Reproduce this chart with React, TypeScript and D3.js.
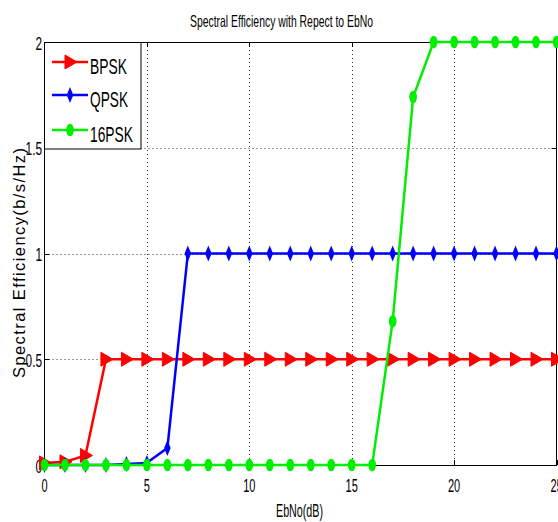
import React, { useRef, useEffect } from 'react';
import * as d3 from 'd3';

const ebno = [0, 1, 2, 3, 4, 5, 6, 7, 8, 9, 10, 11, 12, 13, 14, 15, 16, 17, 18, 19, 20, 21, 22, 23, 24, 25];
const bpsk = [0.01, 0.015, 0.045, 0.5, 0.5, 0.5, 0.5, 0.5, 0.5, 0.5, 0.5, 0.5, 0.5, 0.5, 0.5, 0.5, 0.5, 0.5, 0.5, 0.5, 0.5, 0.5, 0.5, 0.5, 0.5, 0.5];
const qpsk = [0, 0, 0, 0, 0.005, 0.01, 0.08, 1, 1, 1, 1, 1, 1, 1, 1, 1, 1, 1, 1, 1, 1, 1, 1, 1, 1, 1];
const psk16 = [0, 0, 0, 0, 0, 0, 0, 0, 0, 0, 0, 0, 0, 0, 0, 0, 0, 0.68, 1.74, 2, 2, 2, 2, 2, 2, 2];

const xTicks = [0, 5, 10, 15, 20, 25];
const yTicks = [0, 0.5, 1, 1.5, 2];
const yTickLabels = ['0', '0.5', '1', '1.5', '2'];
const seriesNames = ['BPSK', 'QPSK', '16PSK'];
const legendWidths = [37, 38, 43];

const FONT = '"Liberation Sans", Arial, sans-serif';

function App() {
  const ref = useRef<SVGSVGElement>(null);

  useEffect(() => {
    const svg = d3.select(ref.current);
    svg.selectAll('*').remove();
    const width = 558, height = 522;
    svg.attr('width', width).attr('height', height);

    const x = d3.scaleLinear().domain([0, 25]).range([44.5, 556.5]);
    const y = d3.scaleLinear().domain([0, 2]).range([465, 42]);

    svg.append('rect').attr('width', width).attr('height', height).attr('fill', '#fff');

    // grid
    const grid = svg.append('g').attr('stroke', '#333').attr('stroke-width', 1).attr('stroke-dasharray', '1,3');
    xTicks.slice(1, -1).forEach((t) => {
      grid.append('line').attr('x1', Math.round(x(t)) + 0.5).attr('x2', Math.round(x(t)) + 0.5).attr('y1', y(2)).attr('y2', y(0));
    });
    yTicks.slice(1, -1).forEach((t) => {
      grid.append('line').attr('y1', Math.round(y(t)) + 0.5).attr('y2', Math.round(y(t)) + 0.5).attr('x1', x(0)).attr('x2', x(25));
    });

    // axes box and ticks
    const ax = svg.append('g').attr('stroke', '#000').attr('stroke-width', 1).attr('fill', 'none');
    ax.append('rect').attr('x', x(0)).attr('y', y(2) + 0.5).attr('width', x(25) - x(0)).attr('height', y(0) - y(2));
    xTicks.forEach((t) => {
      const px = Math.round(x(t)) + 0.5;
      ax.append('line').attr('x1', px).attr('x2', px).attr('y1', y(0)).attr('y2', y(0) - 5);
      ax.append('line').attr('x1', px).attr('x2', px).attr('y1', y(2)).attr('y2', y(2) + 5);
    });
    yTicks.forEach((t) => {
      const py = Math.round(y(t)) + 0.5;
      ax.append('line').attr('y1', py).attr('y2', py).attr('x1', x(0)).attr('x2', x(0) + 5);
      ax.append('line').attr('y1', py).attr('y2', py).attr('x1', x(25)).attr('x2', x(25) - 5);
    });

    // tick labels
    xTicks.forEach((t) => {
      svg.append('text')
        .attr('transform', `translate(${x(t)},492) scale(0.58,1)`)
        .attr('text-anchor', 'middle')
        .attr('font-family', FONT)
        .attr('font-size', 19)
        .attr('fill', '#000')
        .text(String(t));
    });
    yTicks.forEach((t, i) => {
      svg.append('text')
        .attr('transform', `translate(42,${y(t) + 7.5}) scale(0.64,1)`)
        .attr('text-anchor', 'end')
        .attr('font-family', FONT)
        .attr('font-size', 18.5)
        .attr('fill', '#000')
        .text(yTickLabels[i]);
    });

    // series
    const line = d3.line<number>().x((d, i) => x(ebno[i])).y((d) => y(d));
    const tri = 'M-5,-7L7,0L-5,7Z';
    const diamond = 'M0,-6L2.5,0L0,6L-2.5,0Z M-3,0L3,0';

    const drawMarker = (g: any, kind: number, color: string, px: number, py: number) => {
      if (kind === 0) {
        g.append('path').attr('d', tri).attr('transform', `translate(${px},${py})`).attr('fill', color).attr('stroke', color).attr('stroke-width', 1);
      } else if (kind === 1) {
        g.append('path').attr('d', diamond).attr('transform', `translate(${px},${py})`).attr('fill', color).attr('stroke', color).attr('stroke-width', 1.5);
      } else {
        g.append('ellipse').attr('cx', px).attr('cy', py).attr('rx', 3.8).attr('ry', 6.3).attr('fill', color);
      }
    };

    const series = [
      { data: bpsk, color: '#ff0000' },
      { data: qpsk, color: '#0000ff' },
      { data: psk16, color: '#00ee00' },
    ];
    series.forEach((s, k) => {
      const g = svg.append('g');
      g.append('path').datum(s.data).attr('fill', 'none').attr('stroke', s.color).attr('stroke-width', 2.5).attr('d', line);
      s.data.forEach((v, i) => drawMarker(g, k, s.color, x(ebno[i]), y(v)));
    });

    // legend
    const lg = svg.append('g');
    lg.append('rect').attr('x', 44.5).attr('y', 42.5).attr('width', 96.5).attr('height', 106.5)
      .attr('fill', '#fff').attr('stroke', '#000').attr('stroke-width', 1);
    const legendY = [62, 95, 130];
    series.forEach((s, k) => {
      lg.append('line').attr('x1', 52).attr('x2', 88).attr('y1', legendY[k]).attr('y2', legendY[k])
        .attr('stroke', s.color).attr('stroke-width', 2.5);
      drawMarker(lg, k, s.color, 70, legendY[k]);
      lg.append('text')
        .attr('x', 90).attr('y', legendY[k] + 11.5)
        .attr('font-family', FONT).attr('font-size', 22)
        .attr('textLength', legendWidths[k]).attr('lengthAdjust', 'spacingAndGlyphs')
        .attr('fill', '#000')
        .text(seriesNames[k]);
    });

    // title and labels
    svg.append('text')
      .attr('x', 190).attr('y', 27)
      .attr('font-family', FONT).attr('font-size', 16.5)
      .attr('textLength', 183).attr('lengthAdjust', 'spacingAndGlyphs')
      .attr('fill', '#000')
      .text('Spectral Efficiency with Repect to EbNo');

    svg.append('text')
      .attr('x', 276).attr('y', 517)
      .attr('font-family', FONT).attr('font-size', 18.5)
      .attr('textLength', 47).attr('lengthAdjust', 'spacingAndGlyphs')
      .attr('fill', '#000')
      .text('EbNo(dB)');

    svg.append('text')
      .attr('transform', 'translate(25,263) rotate(-90)')
      .attr('text-anchor', 'middle')
      .attr('font-family', FONT).attr('font-size', 16.5)
      .attr('textLength', 230).attr('lengthAdjust', 'spacing')
      .attr('fill', '#000')
      .text('Spectral Efficiency(b/s/Hz)');
  }, []);

  return <svg ref={ref} style={{ position: 'absolute', left: 0, top: 0 }}></svg>;
}

export default App;
